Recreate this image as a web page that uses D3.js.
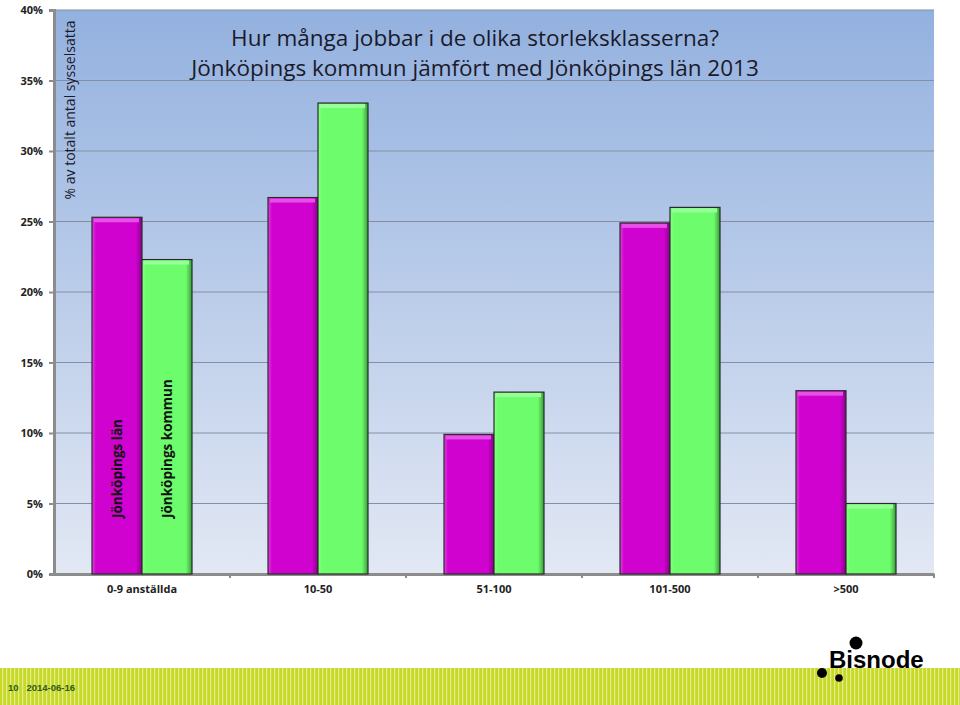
<!DOCTYPE html>
<html><head><meta charset="utf-8">
<script src="https://cdn.jsdelivr.net/npm/d3@7"></script>
<style>body{margin:0;background:#fff;}svg{display:block;}</style>
</head><body>
<svg id="chart" width="960" height="705"></svg>
<script>
const categories = ["0-9 anställda","10-50","51-100","101-500",">500"];
const seriesNames = ["Jönköpings län","Jönköpings kommun"];
const lanValues = [25.3, 26.7, 9.9, 24.9, 13.0];
const kommunValues = [22.3, 33.4, 12.9, 26.0, 5.0];
const yTicks = [0,5,10,15,20,25,30,35,40];
const titleLines = ["Hur många jobbar i de olika storleksklasserna?","Jönköpings kommun jämfört med Jönköpings län 2013"];
const yLabel = "% av totalt antal sysselsatta";
const footerText = "10   2014-06-16";

const svg = d3.select("#chart");
const m = {left:54, right:934, top:10, bottom:574};
const defs = svg.append("defs");
const bg = defs.append("linearGradient").attr("id","bg").attr("x1",0).attr("y1",0).attr("x2",0).attr("y2",1);
bg.append("stop").attr("offset","0%").attr("stop-color","#93b1df");
bg.append("stop").attr("offset","100%").attr("stop-color","#e2e8f4");

function bevel(id, base, light, dark){
  const g = defs.append("linearGradient").attr("id",id).attr("x1",0).attr("y1",0).attr("x2",1).attr("y2",0);
  g.append("stop").attr("offset","0%").attr("stop-color",light);
  g.append("stop").attr("offset","8%").attr("stop-color",base);
  g.append("stop").attr("offset","88%").attr("stop-color",base);
  g.append("stop").attr("offset","100%").attr("stop-color",dark);
}
bevel("gPurple","#cf02cf","#e040e0","#8a008a");
bevel("gGreen","#6cfc6c","#8dff8d","#3a9a3a");

const pat = defs.append("pattern").attr("id","stripes").attr("patternUnits","userSpaceOnUse").attr("width",4).attr("height",8);
pat.append("rect").attr("width",4).attr("height",8).attr("fill","#c6d92a");
pat.append("rect").attr("x",2).attr("width",1.2).attr("height",8).attr("fill","#e4ef8a");

const x0 = d3.scaleBand().domain(categories).range([m.left,m.right]).padding(0);
const x1 = d3.scaleBand().domain(seriesNames).range([38, x0.bandwidth()-38]).padding(0);
const y = d3.scaleLinear().domain([0,40]).range([m.bottom,m.top]);

svg.append("rect").attr("x",m.left).attr("y",m.top).attr("width",m.right-m.left).attr("height",m.bottom-m.top).attr("fill","url(#bg)");

// gridlines
svg.append("g").selectAll("line").data(yTicks.filter(d=>d>0)).join("line")
  .attr("x1",m.left).attr("x2",m.right).attr("y1",d=>y(d)).attr("y2",d=>y(d))
  .attr("stroke","#8390a4").attr("stroke-width",1.2);

// y axis
const yAxis = d3.axisLeft(y).tickValues(yTicks).tickFormat(d=>d+"%").tickSize(5).tickPadding(6);
const ya = svg.append("g").attr("transform",`translate(${m.left},0)`).call(yAxis);
ya.select(".domain").attr("stroke","#8c8c8c").attr("stroke-width",3);
ya.selectAll(".tick line").attr("stroke","#8c8c8c").attr("stroke-width",2);
ya.selectAll("text").attr("font-family","'Open Sans',sans-serif").attr("font-weight","bold").attr("font-size",11).attr("fill","#222");

// x axis
const xAxis = d3.axisBottom(x0).tickSize(0).tickPadding(11);
const xa = svg.append("g").attr("transform",`translate(0,${m.bottom})`).call(xAxis);
xa.select(".domain").attr("stroke","#8c8c8c").attr("stroke-width",3);
xa.selectAll("text").attr("font-family","'Open Sans',sans-serif").attr("font-weight","bold").attr("font-size",11).attr("fill","#222");
const bounds = categories.slice(1).map(c=>x0(c)).concat([m.right]);
svg.append("g").selectAll("line").data(bounds).join("line")
  .attr("x1",d=>d).attr("x2",d=>d)
  .attr("y1",m.bottom).attr("y2",m.bottom+4).attr("stroke","#8c8c8c").attr("stroke-width",2);

// bars
const data = categories.map((c,i)=>({c, vals:[{s:seriesNames[0],v:lanValues[i]},{s:seriesNames[1],v:kommunValues[i]}]}));
const fills = {"Jönköpings län":"url(#gPurple)","Jönköpings kommun":"url(#gGreen)"};
const tops = {"Jönköpings län":"#e650e6","Jönköpings kommun":"#98ff98"};
const grp = svg.append("g").selectAll("g").data(data).join("g").attr("transform",d=>`translate(${x0(d.c)},0)`);
const bars = grp.selectAll("g").data(d=>d.vals).join("g");
bars.append("rect").attr("x",d=>x1(d.s)).attr("y",d=>y(d.v)).attr("width",x1.bandwidth()).attr("height",d=>y(0)-y(d.v))
  .attr("fill",d=>fills[d.s]).attr("stroke","#2a2a2a").attr("stroke-width",1.2);
bars.append("rect").attr("x",d=>x1(d.s)+2).attr("y",d=>y(d.v)+1).attr("width",x1.bandwidth()-5).attr("height",4)
  .attr("fill",d=>tops[d.s]);

// series labels inside first group
const first = data[0];
svg.append("g").selectAll("text").data(first.vals).join("text")
  .attr("transform",d=>`translate(${x0(first.c)+x1(d.s)+x1.bandwidth()/2+5},${y(0)-56}) rotate(-90)`)
  .attr("font-family","'Open Sans',sans-serif").attr("font-weight","bold").attr("font-size",13.5).attr("fill","#111")
  .text(d=>d.s);

// y label
svg.append("text").attr("transform","translate(75,110) rotate(-90)").attr("text-anchor","middle")
  .attr("font-family","'Open Sans',sans-serif").attr("font-size",14).attr("fill","#1a1a2a").text(yLabel);

// title
svg.append("g").selectAll("text").data(titleLines).join("text")
  .attr("x",475).attr("y",(d,i)=>46+i*30).attr("text-anchor","middle")
  .attr("font-family","'Open Sans',sans-serif").attr("font-size",22.5).attr("fill","#1a1a2a").text(d=>d);

// footer
svg.append("rect").attr("x",0).attr("y",668).attr("width",960).attr("height",37).attr("fill","url(#stripes)");
svg.append("text").attr("x",8).attr("y",691).attr("font-family","Arial,'Liberation Sans',sans-serif").attr("font-weight","bold")
  .attr("font-size",9.5).attr("fill","#2f5a1a").attr("xml:space","preserve").text(footerText);

// Bisnode logo
const logo = svg.append("g");
logo.append("text").attr("x",829).attr("y",668).attr("font-family","'Liberation Sans',Arial,sans-serif").attr("font-weight","bold")
  .attr("font-size",24).attr("fill","#000").text("Bisnode");
[[856,643,6.5],[822,673,5],[839,678,3.8]].forEach(p=>logo.append("circle").attr("cx",p[0]).attr("cy",p[1]).attr("r",p[2]).attr("fill","#000"));
</script>
</body></html>
